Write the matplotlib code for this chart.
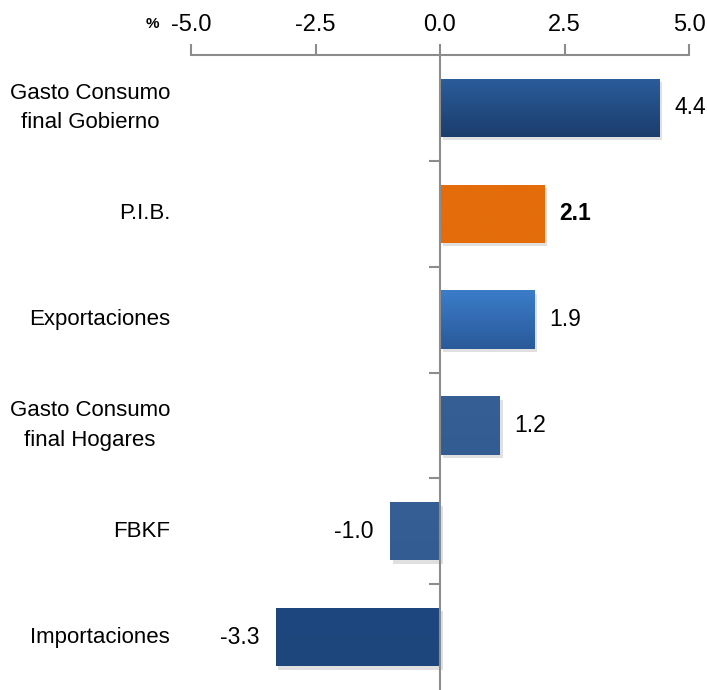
import numpy as np
import matplotlib
matplotlib.use("Agg")
import matplotlib.pyplot as plt
import matplotlib.patheffects as pe
from matplotlib.colors import LinearSegmentedColormap

plt.rcParams['font.family'] = ['Liberation Sans Narrow', 'Liberation Sans', 'DejaVu Sans']

# Data
categorias = ['Gasto Consumo\nfinal Gobierno', 'P.I.B.', 'Exportaciones',
              'Gasto Consumo\nfinal Hogares', 'FBKF', 'Importaciones']
valores = [4.4, 2.1, 1.9, 1.2, -1.0, -3.3]
# (top colour, bottom colour) per bar
colores = [('#2b5d9b', '#1b3d6c'), ('#e46c0a', '#e46c0a'), ('#3b7cc9', '#2a5a9a'),
           ('#365f95', '#335c92'), ('#365f95', '#335c92'), ('#1c477e', '#1c467c')]
ticks_x = [-5.0, -2.5, 0.0, 2.5, 5.0]

fig = plt.figure(figsize=(7.07, 6.90), dpi=100)
ax = fig.add_axes([191/707, 0.0, 498/707, 1 - 55/690])

gris = '#8c8c8c'
y = np.arange(len(valores))
alto = 0.55

bars = ax.barh(y, valores, height=alto, color='none', zorder=2)
for b, (c1, c2) in zip(bars, colores):
    b.set_path_effects([pe.SimplePatchShadow(offset=(2, -2.5), shadow_rgbFace='#000000', alpha=0.12), pe.Normal()])
    x0, y0 = b.get_x(), b.get_y()
    w, h = b.get_width(), b.get_height()
    cmap = LinearSegmentedColormap.from_list('g', [c1, c2])
    grad = np.linspace(0, 1, 50).reshape(-1, 1)
    im = ax.imshow(grad, cmap=cmap, aspect='auto', zorder=3,
                   extent=[x0, x0 + w, y0 + h, y0], origin='upper')
    im.set_clip_path(b)

ax.set_xlim(-5, 5)
ax.set_ylim(len(valores) - 0.5, -0.5)

# value labels
for i, v in enumerate(valores):
    peso = 'bold' if categorias[i] == 'P.I.B.' else 'normal'
    if v >= 0:
        ax.text(v + 0.3, i, f'{v:.1f}', ha='left', va='center', fontsize=16.5, fontweight=peso)
    else:
        ax.text(v - 0.33, i, f'{v:.1f}', ha='right', va='center', fontsize=16.5, fontweight=peso)

# category labels
trans = matplotlib.transforms.blended_transform_factory(ax.transAxes, ax.transData)
for i, c in enumerate(categorias):
    ax.text(-0.042, i, c, transform=trans, ha='right', va='center',
            multialignment='center', fontsize=16, linespacing=1.55)

# axes styling
ax.xaxis.tick_top()
ax.set_xticks(ticks_x)
ax.set_xticklabels([f'{t:.1f}' for t in ticks_x])
ax.tick_params(axis='x', direction='out', length=8, width=1.5, color=gris,
               labelsize=17, pad=6)
ax.spines['left'].set_position(('data', 0))
ax.set_yticks(np.arange(len(valores) - 1) + 0.5)
ax.set_yticklabels([])
ax.tick_params(axis='y', direction='out', length=8, width=1.5, color=gris)
ax.spines['bottom'].set_visible(False)
ax.spines['right'].set_visible(False)
for s in ['top', 'left']:
    ax.spines[s].set_color(gris)
    ax.spines[s].set_linewidth(1.5)
    ax.spines[s].set_zorder(4)
ax.set_facecolor('none')

fig.text(152/707, 1 - 24/690, '%', ha='center', va='center', fontsize=11, fontweight='bold')

fig.savefig('out.png', dpi=100)
